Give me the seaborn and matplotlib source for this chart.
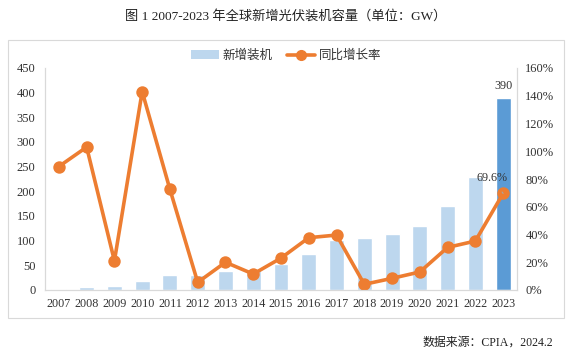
import matplotlib
matplotlib.use("Agg")
import matplotlib.pyplot as plt
import seaborn as sns
from matplotlib.patches import Patch, Rectangle
from matplotlib.lines import Line2D

# Data
years = [str(y) for y in range(2007, 2024)]
capacity = [2.5, 6.2, 7.4, 17.5, 30, 31, 39, 43, 53, 73, 102, 105, 114, 130, 171, 230, 390]
growth = [89, 103, 21, 143, 72.5, 5.5, 20, 11.5, 23, 37.7, 39.6, 4.1, 8.4, 13, 30.7, 35.3, 69.6]

bar_light = "#BDD7EE"
bar_dark = "#5B9BD5"
orange = "#ED7D31"
grey = "#D9D9D9"

sns.set_style("white")
plt.rcParams['font.family'] = ['Liberation Serif', 'Noto Sans CJK SC']

fig = plt.figure(figsize=(5.72, 3.56), dpi=100)
ax = fig.add_axes([45 / 572, 1 - 290 / 356, (517 - 45) / 572, (290 - 68) / 356])

colors = [bar_light] * (len(years) - 1) + [bar_dark]
sns.barplot(x=years, y=capacity, hue=years, palette=colors, legend=False,
            width=0.54, ax=ax, saturation=1)
ax.set_ylim(0, 450)
ax.set_yticks(range(0, 451, 50))
ax.set_xlim(-0.5, len(years) - 0.5)

ax2 = ax.twinx()
sns.pointplot(x=years, y=growth, ax=ax2, color=orange, markers='o',
              markersize=7, linewidth=2.6, errorbar=None)
ax2.set_ylim(0, 160)
ax2.set_yticks(range(0, 161, 20))
ax2.set_yticklabels([f"{v}%" for v in range(0, 161, 20)])
ax2.set_xlim(-0.5, len(years) - 0.5)

for a in (ax, ax2):
    a.set_xlabel("")
    a.set_ylabel("")
    a.spines['top'].set_visible(False)
    for s in ('left', 'right', 'bottom'):
        a.spines[s].set_color(grey)
        a.spines[s].set_linewidth(0.8)
    a.tick_params(length=0, colors="#333333")
ax.tick_params(axis='y', labelsize=9, pad=7)
ax.tick_params(axis='x', labelsize=8.7, pad=5.5)
ax2.tick_params(axis='y', labelsize=9, pad=6)

# labels on the last year
ax.text(16, 402, f"{capacity[-1]:.0f}", ha='center', va='bottom', fontsize=8.7, color="#333333")
ax2.annotate(f"{growth[-1]}%", xy=(16, growth[-1]), xytext=(15.6, 80.5),
             ha='center', va='center', fontsize=8.7, color="#333333",
             arrowprops=dict(arrowstyle='-', color="#A6A6A6", lw=0.8, shrinkA=4, shrinkB=4))

# legend
handles = [Patch(facecolor=bar_light, edgecolor='none'),
           Line2D([0], [0], color=orange, lw=2.6, marker='o', markersize=7)]
fig.legend(handles, ["新增装机", "同比增长率"], loc='center', bbox_to_anchor=(0.5, 1 - 56 / 356),
           ncol=2, frameon=False, fontsize=9, handlelength=2.2, columnspacing=1.2,
           handletextpad=0.3, labelcolor="#333333")

# frame around the chart
fig.patches.append(Rectangle((8 / 572, 1 - 318 / 356), (564 - 8) / 572, (318 - 40) / 356,
                             transform=fig.transFigure, fill=False, edgecolor=grey, lw=0.8))

fig.text(0.5, 1 - 16 / 356, "图 1 2007-2023 年全球新增光伏装机容量（单位：GW）",
         ha='center', va='center', fontsize=9.5, color="#222222")
fig.text(553 / 572, 1 - 343 / 356, "数据来源：CPIA，2024.2", ha='right', va='center',
         fontsize=8.6, color="#222222")

fig.savefig("out.png", dpi=100)
